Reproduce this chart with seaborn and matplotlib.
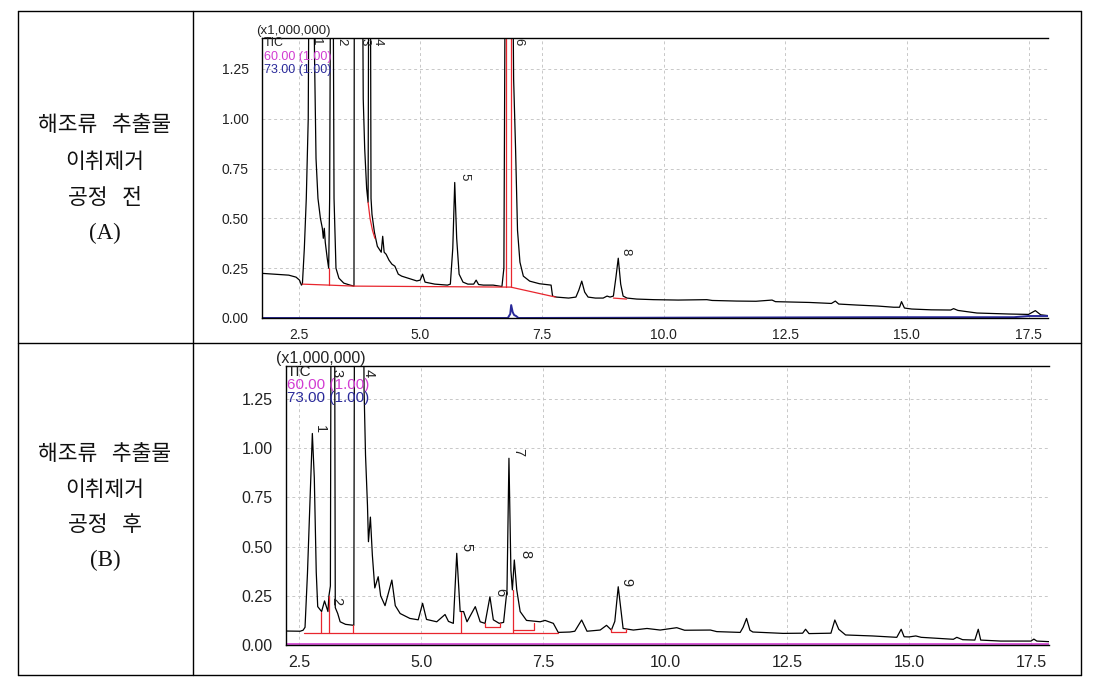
import matplotlib
matplotlib.use("Agg")
import numpy as np
import pandas as pd
import seaborn as sns
import matplotlib.pyplot as plt
from matplotlib.lines import Line2D
from matplotlib.ticker import MultipleLocator, FormatStrFormatter

# ---------------- data ----------------
# Chromatogram A (before off-flavour removal), TIC, intensity x 1,000,000
tA = [1.75, 2.0, 2.3, 2.45, 2.52, 2.56, 2.58, 2.62, 2.66, 2.70, 2.73, 2.78, 2.83, 2.86, 2.90,
      2.95, 2.99, 3.01, 3.03, 3.05, 3.09, 3.12, 3.14, 3.17, 3.20, 3.23, 3.27, 3.33, 3.43, 3.56,
      3.64, 3.65, 3.80, 3.83, 3.86, 3.90, 3.93, 3.95, 3.97, 3.99, 4.01, 4.06, 4.12, 4.20, 4.23,
      4.26, 4.30, 4.36, 4.42, 4.48, 4.55, 4.62, 4.75, 4.93, 5.00, 5.05, 5.10, 5.30, 5.56, 5.62,
      5.67, 5.71, 5.75, 5.80, 5.88, 5.98, 6.10, 6.15, 6.20, 6.30, 6.50, 6.68, 6.72, 6.76, 6.88,
      6.92, 6.96, 7.00, 7.05, 7.12, 7.25, 7.45, 7.69, 7.72, 7.80, 8.05, 8.20, 8.26, 8.32, 8.38,
      8.45, 8.60, 8.76, 8.84, 8.90, 8.97, 9.02, 9.07, 9.12, 9.17, 9.25, 9.45, 9.80, 10.3, 10.89,
      11.0, 11.5, 11.9, 12.23, 12.3, 12.65, 13.0, 13.45, 13.53, 13.6, 13.97, 14.4, 14.73, 14.85,
      14.89, 14.95, 15.1, 15.5, 15.9, 15.96, 16.05, 16.44, 17.1, 17.5, 17.64, 17.75, 17.9]
vA = [0.224, 0.22, 0.215, 0.205, 0.19, 0.165, 0.17, 0.35, 0.6, 1.0, 2.5, 2.5, 1.3, 0.8, 0.6,
      0.5, 0.45, 0.40, 0.45, 0.38, 0.3, 0.25, 0.6, 2.5, 2.5, 0.6, 0.25, 0.2, 0.175, 0.165,
      0.16, 2.5, 2.5, 1.1, 0.85, 0.65, 0.58, 2.5, 2.5, 0.6, 0.52, 0.43, 0.36, 0.33, 0.41,
      0.33, 0.32, 0.29, 0.27, 0.26, 0.22, 0.21, 0.2, 0.186, 0.19, 0.22, 0.18, 0.17, 0.165, 0.17,
      0.35, 0.68, 0.4, 0.22, 0.18, 0.17, 0.17, 0.19, 0.168, 0.165, 0.165, 0.158, 0.25, 2.5, 2.5,
      1.2, 0.85, 0.44, 0.28, 0.21, 0.185, 0.172, 0.165, 0.11, 0.105, 0.1, 0.105, 0.14, 0.185, 0.13,
      0.105, 0.1, 0.1, 0.11, 0.105, 0.11, 0.2, 0.3, 0.17, 0.11, 0.1, 0.095, 0.092, 0.09, 0.092,
      0.088, 0.085, 0.084, 0.09, 0.082, 0.08, 0.078, 0.073, 0.085, 0.07, 0.065, 0.06, 0.054, 0.054,
      0.082, 0.05, 0.045, 0.041, 0.04, 0.047, 0.038, 0.025, 0.02, 0.018, 0.037, 0.016, 0.012]
# m/z 73.00 trace in A
tA_73 = [1.75, 6.80, 6.85, 6.87, 6.90, 6.93, 6.97, 7.02, 14.6, 17.2, 17.5, 17.9]
vA_73 = [0.0, 0.0, 0.02, 0.065, 0.03, 0.015, 0.01, 0.0, 0.004, 0.004, 0.01, 0.01]
# integration baselines (red) in A
redA_x = [[2.58, 3.13, 3.64, 6.86, 7.78], [3.13, 3.13], [6.77, 6.77], [6.86, 6.86],
          [3.93, 3.97, 4.02, 4.07], [8.97, 9.24]]
redA_y = [[0.17, 0.165, 0.16, 0.155, 0.105], [0.165, 0.25], [0.155, 2.5], [0.155, 2.5],
          [0.58, 0.50, 0.44, 0.40], [0.1, 0.095]]
peaksA_lbl = ["1", "2", "3", "4", "5", "6", "8"]
peaksA_t = [2.86, 3.38, 3.86, 4.13, 5.90, 7.01, 9.21]
peaksA_v = [1.385, 1.385, 1.385, 1.385, 0.71, 1.385, 0.335]

# Chromatogram B (after off-flavour removal)
tB = [2.23, 2.52, 2.58, 2.62, 2.67, 2.73, 2.77, 2.81, 2.85, 2.88, 2.96, 3.02, 3.09, 3.11, 3.14,
      3.16, 3.22, 3.24, 3.29, 3.34, 3.45, 3.62, 3.64, 3.80, 3.83, 3.86, 3.90, 3.92, 3.96, 4.00,
      4.05, 4.12, 4.17, 4.26, 4.40, 4.47, 4.57, 4.77, 4.94, 5.03, 5.11, 5.32, 5.49, 5.56, 5.66,
      5.73, 5.80, 5.87, 5.94, 6.11, 6.21, 6.31, 6.41, 6.48, 6.60, 6.69, 6.76, 6.80, 6.84, 6.87,
      6.91, 6.96, 7.03, 7.16, 7.44, 7.54, 7.71, 7.81, 8.05, 8.15, 8.29, 8.40, 8.67, 8.80, 8.90,
      8.97, 9.04, 9.14, 9.35, 9.63, 9.9, 10.24, 10.4, 10.93, 11.06, 11.54, 11.6, 11.67, 11.74,
      11.8, 12.42, 12.82, 12.88, 12.95, 13.4, 13.48, 13.56, 13.7, 14.25, 14.75, 14.84, 14.9,
      15.0, 15.14, 15.25, 15.91, 15.98, 16.1, 16.35, 16.42, 16.47, 16.88, 17.5, 17.56, 17.62, 17.87]
vB = [0.071, 0.07, 0.075, 0.09, 0.364, 0.79, 1.075, 0.85, 0.37, 0.195, 0.17, 0.224, 0.17, 0.25, 0.3,
      2.5, 2.5, 0.19, 0.16, 0.118, 0.105, 0.10, 2.5, 2.5, 1.3, 0.965, 0.71, 0.525, 0.65, 0.457,
      0.29, 0.347, 0.25, 0.2, 0.33, 0.2, 0.16, 0.135, 0.128, 0.212, 0.13, 0.118, 0.155, 0.12, 0.11,
      0.466, 0.17, 0.17, 0.118, 0.195, 0.118, 0.11, 0.245, 0.128, 0.11, 0.115, 0.28, 0.949, 0.38, 0.28,
      0.432, 0.28, 0.17, 0.125, 0.118, 0.125, 0.11, 0.064, 0.066, 0.07, 0.127, 0.07, 0.076, 0.1, 0.076,
      0.12, 0.296, 0.084, 0.076, 0.084, 0.076, 0.088, 0.075, 0.076, 0.068, 0.064, 0.09, 0.135, 0.075,
      0.066, 0.059, 0.06, 0.08, 0.058, 0.06, 0.127, 0.08, 0.051, 0.046, 0.039, 0.08, 0.042,
      0.041, 0.046, 0.039, 0.029, 0.039, 0.027, 0.025, 0.08, 0.025, 0.02, 0.02, 0.03, 0.02, 0.017]
# m/z 60.00 trace in B
tB_60 = [2.23, 17.87]
vB_60 = [0.003, 0.003]
redB_x = [[2.60, 7.80], [2.95, 2.95], [3.11, 3.11], [3.60, 3.60], [5.81, 5.81],
          [6.30, 6.30, 6.62, 6.62], [6.88, 6.88], [6.88, 7.32, 7.32], [8.90, 8.90, 9.20, 9.20]]
redB_y = [[0.06, 0.06], [0.06, 0.17], [0.06, 0.25], [0.06, 0.10], [0.06, 0.17],
          [0.11, 0.09, 0.09, 0.11], [0.06, 0.28], [0.075, 0.075, 0.11], [0.08, 0.065, 0.065, 0.08]]
peaksB_lbl = ["1", "2", "3", "4", "5", "6", "7", "8", "9"]
peaksB_t = [2.93, 3.25, 3.27, 3.92, 5.92, 6.62, 6.99, 7.13, 9.21]
peaksB_v = [1.10, 0.225, 1.38, 1.38, 0.50, 0.27, 0.98, 0.46, 0.32]

row_text_A = ["해조류   추출물", "이취제거", "공정   전", "(A)"]
row_text_B = ["해조류   추출물", "이취제거", "공정   후", "(B)"]
legend_text = ["TIC", "60.00 (1.00)", "73.00 (1.00)"]
scale_text = "(x1,000,000)"
x_ticks = [2.5, 5.0, 7.5, 10.0, 12.5, 15.0, 17.5]
y_ticks = [0.00, 0.25, 0.50, 0.75, 1.00, 1.25]

# ---------------- style ----------------
sns.set_style("white")
plt.rcParams['font.family'] = ['Liberation Sans', 'DejaVu Sans']

W, H = 1098, 688
fig = plt.figure(figsize=(W / 100, H / 100), dpi=100)
fig.patch.set_facecolor("white")


def fx(x):
    return x / W


def fy(y):
    return 1 - y / H


RED = "#e8262e"
MAG = "#d23cd2"
BLUE = "#2a2a9a"

axA = fig.add_axes([fx(262), fy(318), (1048 - 262) / W, (318 - 38) / H])
axB = fig.add_axes([fx(286), fy(645), (1049 - 286) / W, (645 - 366) / H])


def style_axes(ax, xlim, ylim, fs):
    ax.set_xlim(*xlim)
    ax.set_ylim(*ylim)
    ax.set_xticks(x_ticks)
    ax.set_yticks(y_ticks)
    ax.xaxis.set_minor_locator(MultipleLocator(0.5))
    ax.yaxis.set_minor_locator(MultipleLocator(0.05))
    ax.xaxis.set_major_formatter(FormatStrFormatter("%.1f"))
    ax.yaxis.set_major_formatter(FormatStrFormatter("%.2f"))
    ax.tick_params(axis="both", which="major", direction="out", length=6, width=0.8,
                   colors="black", labelsize=fs, labelcolor="#222222")
    ax.tick_params(axis="both", which="minor", direction="out", length=3, width=0.8, colors="black")
    ax.tick_params(axis="x", which="major", length=4)
    ax.grid(True, which="major", color="#c8c8c8", linestyle=(0, (3, 3)), linewidth=0.7)
    ax.set_axisbelow(True)
    for s in ["top", "left", "bottom"]:
        ax.spines[s].set_visible(True)
        ax.spines[s].set_color("black")
        ax.spines[s].set_linewidth(1.0)
    ax.spines["right"].set_visible(False)
    ax.set_xlabel("")
    ax.set_ylabel("")
    ax.set_facecolor("white")


# ---- chart A ----
dfA = pd.DataFrame({"t": tA, "v": vA})
sns.lineplot(data=dfA, x="t", y="v", sort=False, estimator=None, color="black", lw=0.9, ax=axA)
df73 = pd.DataFrame({"t": tA_73, "v": vA_73})
sns.lineplot(data=df73, x="t", y="v", sort=False, estimator=None, color=BLUE, lw=1.4, ax=axA)
for xs, ys in zip(redA_x, redA_y):
    axA.plot(xs, ys, color=RED, lw=0.9)
for lbl, t, v in zip(peaksA_lbl, peaksA_t, peaksA_v):
    axA.text(t, v, lbl, rotation=270, ha="center", va="center", fontsize=9.5, color="#222222")
style_axes(axA, (1.75, 17.9), (0, 1.405), 10)

# ---- chart B ----
dfB = pd.DataFrame({"t": tB, "v": vB})
sns.lineplot(data=dfB, x="t", y="v", sort=False, estimator=None, color="black", lw=0.9, ax=axB)
df60 = pd.DataFrame({"t": tB_60, "v": vB_60})
sns.lineplot(data=df60, x="t", y="v", sort=False, estimator=None, color=MAG, lw=1.2, ax=axB)
for xs, ys in zip(redB_x, redB_y):
    axB.plot(xs, ys, color=RED, lw=0.9)
for lbl, t, v in zip(peaksB_lbl, peaksB_t, peaksB_v):
    axB.text(t, v, lbl, rotation=270, ha="center", va="center", fontsize=10.5, color="#222222")
style_axes(axB, (2.23, 17.87), (0, 1.418), 11.5)

# ---- header texts of the two chromatograms ----
fig.text(fx(256), fy(31), scale_text, ha="left", va="center", fontsize=9.5, color="#222222")
leg_cols = ["#222222", MAG, BLUE]
for txt, c, y in zip(legend_text, leg_cols, [43, 57, 70]):
    fig.text(fx(264), fy(y), txt, ha="left", va="center", fontsize=9, color=c)
fig.text(fx(276), fy(359), scale_text, ha="left", va="center", fontsize=11.5, color="#222222")
for txt, c, y in zip(legend_text, leg_cols, [372, 385, 398]):
    fig.text(fx(287), fy(y), txt, ha="left", va="center", fontsize=11, color=c)

# ---- table frame ----
def hline(y, x0, x1):
    fig.add_artist(Line2D([fx(x0), fx(x1)], [fy(y), fy(y)], transform=fig.transFigure,
                          color="black", lw=1.0))


def vline(x, y0, y1):
    fig.add_artist(Line2D([fx(x), fx(x)], [fy(y0), fy(y1)], transform=fig.transFigure,
                          color="black", lw=1.0))


hline(11, 18, 1081)
hline(343, 18, 1081)
hline(675, 18, 1081)
vline(18, 11, 675)
vline(193, 11, 675)
vline(1081, 11, 675)

# ---- row texts ----
for lines, ys in [(row_text_A, [125, 162, 198, 233]), (row_text_B, [454, 490, 525, 560])]:
    for txt, y in zip(lines, ys):
        if txt.startswith("("):
            fam = ["Liberation Serif", "DejaVu Serif"]
            fs = 16.5
        else:
            fam = ["Noto Sans CJK KR", "DejaVu Sans"]
            fs = 15.5
        fig.text(fx(105), fy(y), txt, ha="center", va="center", fontsize=fs,
                 family=fam, color="#111111")

fig.savefig("out.png", dpi=100, facecolor="white")
